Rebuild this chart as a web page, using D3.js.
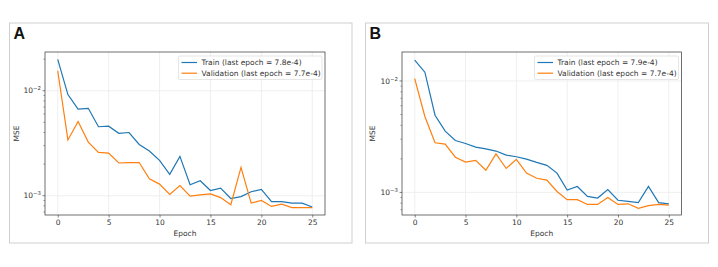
<!DOCTYPE html>
<html><head><meta charset="utf-8">
<script src="https://cdn.jsdelivr.net/npm/d3@7"></script>
<style>body{margin:0;background:#fff}svg{display:block}</style>
</head><body>
<script>
const epochs = d3.range(0, 26);
const trainA = [0.0199,0.0092,0.0067,0.0068,0.00454,0.0046,0.00393,0.0040,0.00308,0.00267,0.00217,0.0016,0.00237,0.00127,0.00139,0.00112,0.00118,0.00094,0.00098,0.00109,0.00115,0.00088,0.00088,0.00085,0.00085,0.00078];
const valA = [0.0155,0.0034,0.0051,0.00324,0.00259,0.00255,0.00205,0.00207,0.00207,0.00145,0.00129,0.00103,0.00125,0.00099,0.00102,0.00104,0.00096,0.00082,0.00186,0.00085,0.00090,0.00079,0.00083,0.00077,0.00077,0.00077];
const trainB = [0.0154,0.0120,0.00493,0.00355,0.00292,0.00275,0.00255,0.00246,0.00235,0.00216,0.00209,0.00199,0.00186,0.00175,0.00149,0.00105,0.00113,0.00092,0.00089,0.00106,0.00085,0.00083,0.00081,0.00113,0.00081,0.00079];
const valB = [0.0105,0.0048,0.00279,0.00271,0.00207,0.00187,0.00194,0.00158,0.00222,0.00164,0.00198,0.00149,0.00134,0.00129,0.00102,0.00086,0.00086,0.00078,0.00078,0.00090,0.00078,0.00079,0.00072,0.00076,0.00078,0.00077];
const xTicks = [0,5,10,15,20,25];
const yMajor = [1e-3, 1e-2];
const yLabelExp = ["\u22123", "\u22122"];
const legendA = ["Train (last epoch = 7.8e-4)", "Validation (last epoch = 7.7e-4)"];
const legendB = ["Train (last epoch = 7.9e-4)", "Validation (last epoch = 7.7e-4)"];
const panelLetters = ["A", "B"];

const W = 718, H = 267;
const svg = d3.select("body").append("svg").attr("width", W).attr("height", H);
const FONT = "DejaVu Sans, sans-serif";
const FS = 7.5;

const panels = [
  {letter: panelLetters[0], box:[9.5,23,342.5,220], plot:[45,52,325,215], yDom:[6.55e-4,0.0234], train:trainA, val:valA, legend:legendA, legX:178.5, labX:15.5},
  {letter: panelLetters[1], box:[365.5,23,343,220], plot:[402,52,681.5,215], yDom:[6.27e-4,0.0182], train:trainB, val:valB, legend:legendB, legX:534.5, labX:372}
];

panels.forEach(p => {
  const g = svg.append("g");
  g.append("rect").attr("x", p.box[0]).attr("y", p.box[1]).attr("width", p.box[2]).attr("height", p.box[3])
    .attr("fill", "none").attr("stroke", "#cfcfcf").attr("stroke-width", 1);
  g.append("text").attr("x", p.box[0] + 4).attr("y", p.box[1] + 16).text(p.letter)
    .attr("font-family", "Liberation Sans, Arial, sans-serif").attr("font-weight", "bold").attr("font-size", 16).attr("fill", "#111");

  const [x0, y0, x1, y1] = p.plot;
  const x = d3.scaleLinear().domain([-1.25, 26.25]).range([x0, x1]);
  const y = d3.scaleLog().domain(p.yDom).range([y1, y0]);

  // grid
  g.append("g").selectAll("line").data(xTicks).join("line")
    .attr("x1", d => x(d)).attr("x2", d => x(d)).attr("y1", y0).attr("y2", y1)
    .attr("stroke", "#ebebeb").attr("stroke-width", 0.8);
  g.append("g").selectAll("line").data(yMajor).join("line")
    .attr("x1", x0).attr("x2", x1).attr("y1", d => y(d)).attr("y2", d => y(d))
    .attr("stroke", "#ebebeb").attr("stroke-width", 0.8);

  // lines
  const line = d3.line().x((d, i) => x(epochs[i])).y(d => y(d));
  g.append("path").datum(p.train).attr("d", line).attr("fill", "none").attr("stroke", "#1f77b4").attr("stroke-width", 1.2);
  g.append("path").datum(p.val).attr("d", line).attr("fill", "none").attr("stroke", "#ff7f0e").attr("stroke-width", 1.2);

  // x axis
  const xa = g.append("g").attr("transform", `translate(0,${y1})`)
    .call(d3.axisBottom(x).tickValues(xTicks).tickSize(2.5).tickPadding(2));
  xa.select(".domain").remove();
  xa.selectAll("line").attr("stroke", "#333").attr("stroke-width", 0.6);
  xa.selectAll("text").attr("font-family", FONT).attr("font-size", FS).attr("fill", "#333");

  // y axis minor ticks
  const minor = y.ticks().filter(v => yMajor.indexOf(v) < 0 && v >= p.yDom[0] && v <= p.yDom[1]);
  g.append("g").selectAll("line").data(minor).join("line")
    .attr("x1", x0 - 1.5).attr("x2", x0).attr("y1", d => y(d)).attr("y2", d => y(d))
    .attr("stroke", "#333").attr("stroke-width", 0.5);
  g.append("g").selectAll("line").data(yMajor).join("line")
    .attr("x1", x0 - 2.5).attr("x2", x0).attr("y1", d => y(d)).attr("y2", d => y(d))
    .attr("stroke", "#333").attr("stroke-width", 0.6);
  const yl = g.append("g").selectAll("text").data(yMajor).join("text")
    .attr("x", x0 - 4).attr("y", d => y(d) + 2.6).attr("text-anchor", "end")
    .attr("font-family", FONT).attr("font-size", FS).attr("fill", "#333");
  yl.append("tspan").text("10");
  yl.append("tspan").attr("dy", -3).attr("font-size", 5.4).text((d, i) => yLabelExp[i]);

  // frame
  g.append("rect").attr("x", x0).attr("y", y0).attr("width", x1 - x0).attr("height", y1 - y0)
    .attr("fill", "none").attr("stroke", "#333").attr("stroke-width", 0.7);

  // axis labels
  g.append("text").attr("x", (x0 + x1) / 2).attr("y", 236).attr("text-anchor", "middle")
    .attr("font-family", FONT).attr("font-size", FS).attr("fill", "#333").text("Epoch");
  g.append("text").attr("transform", `translate(${p.labX + 3},${(y0 + y1) / 2}) rotate(-90)`).attr("text-anchor", "middle")
    .attr("font-family", FONT).attr("font-size", FS).attr("fill", "#333").text("MSE");

  // legend
  const lx = p.legX, ly = 56;
  g.append("rect").attr("x", lx).attr("y", ly).attr("width", x1 - 3 - lx).attr("height", 23.5).attr("rx", 1.5)
    .attr("fill", "#fff").attr("fill-opacity", 0.85).attr("stroke", "#d5d5d5").attr("stroke-width", 0.6);
  const cols = ["#1f77b4", "#ff7f0e"];
  p.legend.forEach((t, i) => {
    const cy = ly + 6.5 + i * 10.7;
    g.append("line").attr("x1", lx + 3).attr("x2", lx + 18.5).attr("y1", cy).attr("y2", cy)
      .attr("stroke", cols[i]).attr("stroke-width", 1.2);
    g.append("text").attr("x", lx + 23).attr("y", cy + 2.7).attr("font-family", FONT).attr("font-size", FS)
      .attr("fill", "#333").text(t);
  });
});
</script>
</body></html>
